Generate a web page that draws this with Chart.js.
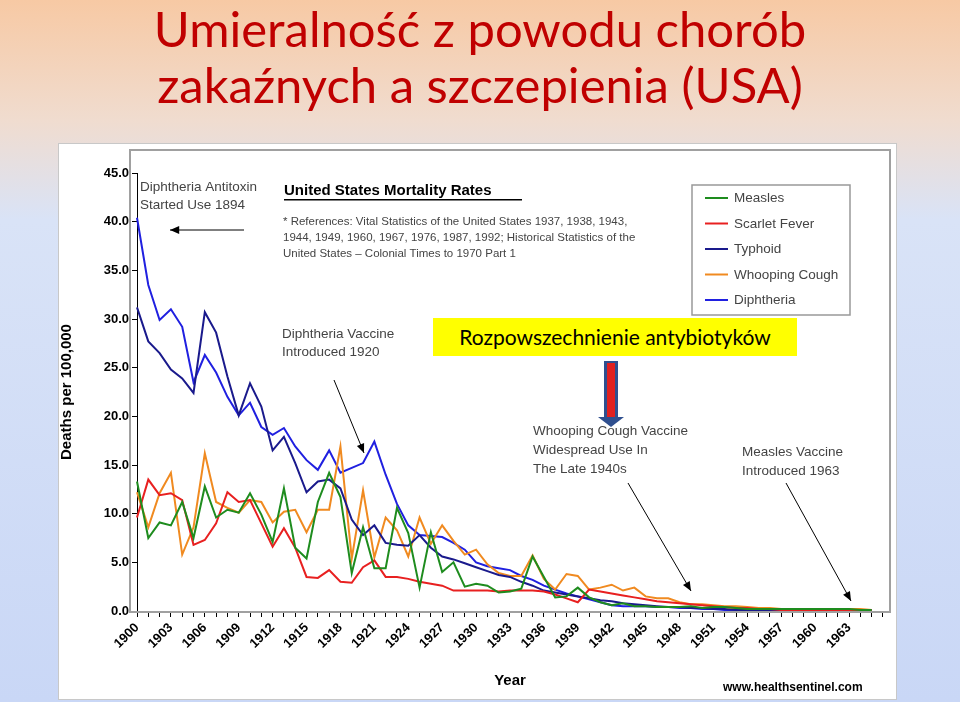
<!DOCTYPE html>
<html><head><meta charset="utf-8">
<script src="https://cdn.jsdelivr.net/npm/chart.js@4/dist/chart.umd.min.js"></script>
<style>
html,body{margin:0;padding:0;}
body{width:960px;height:702px;position:relative;overflow:hidden;font-family:Lato,"Open Sans",sans-serif;
background:linear-gradient(#f7c9a4 0px,#f0dccf 120px,#d9e3f7 220px,#c9d7f6 702px);}
h1{position:absolute;left:0;width:960px;top:0px;margin:0;text-align:center;font-weight:normal;font-size:49px;line-height:56px;color:#c00000;font-family:Lato,"Open Sans",sans-serif;}
#box{position:absolute;left:58px;top:143px;width:839px;height:557px;background:#fff;}
#y1{position:absolute;left:433px;top:318px;width:364px;height:38px;background:#ffff00;font-size:21px;line-height:38px;text-align:center;color:#000;font-family:Lato,sans-serif;}
</style></head><body>
<h1>Umieralność z powodu chorób<br>zakaźnych a szczepienia (USA)</h1>
<div id="box"><canvas id="c" width="839" height="557"></canvas></div>
<div id="y1">Rozpowszechnienie antybiotyków</div>
<script>
const years=[];for(let y=1900;y<=1966;y++)years.push(String(y));
const tickLabels=["1900","1903","1906","1909","1912","1915","1918","1921","1924","1927","1930","1933","1936","1939","1942","1945","1948","1951","1954","1957","1960","1963"];
const measles=[13.3,7.5,9.1,8.8,11.2,7.5,12.8,9.6,10.4,10.1,12.1,9.9,7.1,12.6,6.5,5.4,11.2,14.2,11.7,3.9,8.6,4.4,4.4,10.6,8.0,2.4,8.1,4.0,5.0,2.5,2.8,2.6,1.9,2.0,2.3,5.6,3.5,1.4,1.5,2.4,1.4,0.9,0.6,0.8,0.5,0.5,0.4,0.4,0.4,0.5,0.3,0.4,0.4,0.3,0.2,0.2,0.2,0.2,0.2,0.2,0.2,0.2,0.2,0.2,0.1,0.1];
const scarlet=[9.6,13.5,11.9,12.1,11.4,6.8,7.3,9.0,12.2,11.2,11.4,9.0,6.6,8.5,6.5,3.5,3.4,4.2,3.0,2.9,4.5,5.2,3.5,3.5,3.3,3.0,2.8,2.6,2.1,2.1,2.1,2.1,2.0,2.1,2.1,2.1,2.0,1.7,1.3,0.9,2.2,2.0,1.8,1.6,1.4,1.2,1.0,0.9,0.8,0.7,0.6,0.5,0.4,0.3,0.3,0.2,0.2,0.1,0.1,0.1,0.1,0.1,0.1,0.1,0.1,0.1];
const typhoid=[31.2,27.7,26.5,24.8,23.9,22.4,30.7,28.6,24.1,20.1,23.4,21.0,16.5,17.9,15.2,12.2,13.3,13.5,12.6,9.4,7.8,8.8,7.0,6.8,6.7,7.8,6.5,5.6,5.3,4.9,4.5,4.1,3.7,3.5,3.0,2.6,2.1,1.9,1.7,1.5,1.3,1.1,1.0,0.8,0.7,0.6,0.5,0.4,0.4,0.3,0.3,0.2,0.2,0.1,0.1,0.1,0.1,0.1,0.1,0.1,0.1,0.1,0.1,0.1,0.1,0.1];
const whooping=[12.2,8.6,12.1,14.2,5.8,8.6,16.2,11.2,10.6,10.1,11.4,11.2,9.1,10.2,10.4,8.1,10.4,10.4,16.9,5.4,12.4,5.5,9.6,8.3,5.6,9.6,6.9,8.8,7.2,5.8,6.3,4.8,3.9,3.6,3.6,5.7,3.3,2.2,3.8,3.6,2.2,2.4,2.7,2.1,2.4,1.5,1.3,1.3,0.9,0.7,0.7,0.6,0.5,0.5,0.4,0.3,0.3,0.2,0.2,0.2,0.2,0.2,0.2,0.2,0.2,0.1];
const diphtheria=[40.4,33.5,29.9,31.0,29.2,23.5,26.3,24.5,22.0,20.1,21.4,18.9,18.1,18.8,16.9,15.5,14.5,16.5,14.2,14.7,15.2,17.4,14.0,11.0,8.8,7.8,7.7,7.6,7.0,6.3,5.0,4.6,4.4,4.2,3.6,3.2,2.6,2.2,1.8,1.5,1.2,0.9,0.6,0.5,0.5,0.5,0.4,0.4,0.3,0.3,0.2,0.2,0.1,0.1,0.1,0.1,0.1,0.1,0.1,0.1,0.1,0.1,0.1,0.1,0.1,0.1];
const seriesNames=["Measles","Scarlet Fever","Typhoid","Whooping Cough","Diphtheria"];
const colors=["#1e8c1e","#e82020","#1a1a8c","#f08a20","#2020e0"];
const data=[measles,scarlet,typhoid,whooping,diphtheria];

function arrow(ctx,x1,y1,x2,y2){ctx.save();ctx.strokeStyle='#000';ctx.fillStyle='#000';ctx.lineWidth=1;
ctx.beginPath();ctx.moveTo(x1,y1);ctx.lineTo(x2,y2);ctx.stroke();
const a=Math.atan2(y2-y1,x2-x1);ctx.beginPath();ctx.moveTo(x2,y2);
ctx.lineTo(x2-10*Math.cos(a-0.4),y2-10*Math.sin(a-0.4));ctx.lineTo(x2-10*Math.cos(a+0.4),y2-10*Math.sin(a+0.4));ctx.closePath();ctx.fill();ctx.restore();}

const deco={id:'deco',afterDraw(ch){const c=ch.ctx;
 c.save();c.strokeStyle='#a0a0a0';c.lineWidth=2;c.strokeRect(72,7,760,462);
 c.strokeStyle='#c8c8c8';c.lineWidth=1;c.strokeRect(0.5,0.5,838,556);
 c.fillStyle='#444';c.font='13.5px "Liberation Sans",Arial';c.textBaseline='alphabetic';
 c.fillText('Diphtheria Antitoxin',82,48);c.fillText('Started Use 1894',82,66);
 arrow(c,186,87,112,87);
 c.fillStyle='#000';c.font='bold 15px "Liberation Sans",Arial';c.fillText('United States Mortality Rates',226,52);
 c.fillRect(226,56,238,1.5);
 c.fillStyle='#444';c.font='11.5px "Liberation Sans",Arial';
 c.fillText('* References: Vital Statistics of the United States 1937, 1938, 1943,',225,82);
 c.fillText('1944, 1949, 1960, 1967, 1976, 1987, 1992; Historical Statistics of the',225,98);
 c.fillText('United States – Colonial Times to 1970 Part 1',225,114);
 c.font='13.5px "Liberation Sans",Arial';
 c.fillText('Diphtheria Vaccine',224,195);c.fillText('Introduced 1920',224,213);
 arrow(c,276,237,306,310);
 c.fillText('Whooping Cough Vaccine',475,292);c.fillText('Widespread Use In',475,311);c.fillText('The Late 1940s',475,330);
 arrow(c,570,340,633,448);
 c.fillText('Measles Vaccine',684,313);c.fillText('Introduced 1963',684,332);
 arrow(c,728,340,793,458);
 c.fillStyle='#fff';c.fillRect(634,42,158,130);c.strokeStyle='#999';c.lineWidth=1.5;c.strokeRect(634,42,158,130);
 c.font='13.5px "Liberation Sans",Arial';
 seriesNames.forEach((n,i)=>{const y=55+i*25.5;c.strokeStyle=colors[i];c.lineWidth=2;c.beginPath();c.moveTo(647,y);c.lineTo(670,y);c.stroke();c.fillStyle='#444';c.fillText(n,676,y+4);});
 c.fillStyle='#000';c.font='bold 12px "Liberation Sans",Arial';c.fillText('www.healthsentinel.com',665,548);
 c.fillStyle='#2f4f8f';c.fillRect(546,218,14,58);c.fillStyle='#e02020';c.fillRect(549,220,8,56);
 c.beginPath();c.moveTo(540,274);c.lineTo(566,274);c.lineTo(553,284);c.closePath();c.fillStyle='#2f4f8f';c.fill();
 c.restore();}};

new Chart(document.getElementById('c'),{type:'line',
 data:{labels:years,datasets:seriesNames.map((n,i)=>({label:n,data:data[i],borderColor:colors[i],backgroundColor:colors[i],borderWidth:2,pointRadius:0,tension:0}))},
 options:{responsive:false,animation:false,layout:{padding:{top:30,right:14}},
  plugins:{legend:{display:false},tooltip:{enabled:false}},
  scales:{
   x:{grid:{display:true,drawOnChartArea:false,color:'#000',tickLength:6},border:{color:'#000'},
     ticks:{autoSkip:false,maxRotation:45,minRotation:45,color:'#000',font:{weight:'bold',size:13,family:'"Liberation Sans",Arial'},
       callback:function(v){const l=this.getLabelForValue(v);return tickLabels.includes(l)?l:'';}},
     title:{display:true,text:'Year',color:'#000',font:{weight:'bold',size:15,family:'"Liberation Sans",Arial'},padding:{top:0,bottom:10}},
     afterFit(s){s.height=89;}},
   y:{min:0,max:45,grid:{display:true,drawOnChartArea:false,color:'#000',tickLength:5},border:{color:'#000'},
     ticks:{stepSize:5,color:'#000',font:{weight:'bold',size:13,family:'"Liberation Sans",Arial'},callback:v=>v.toFixed(1)},
     title:{display:true,text:'Deaths per 100,000',color:'#000',font:{weight:'bold',size:15,family:'"Liberation Sans",Arial'},padding:{top:0,bottom:2}},
     afterFit(s){s.width=79;}}}},
 plugins:[deco]});
</script></body></html>
